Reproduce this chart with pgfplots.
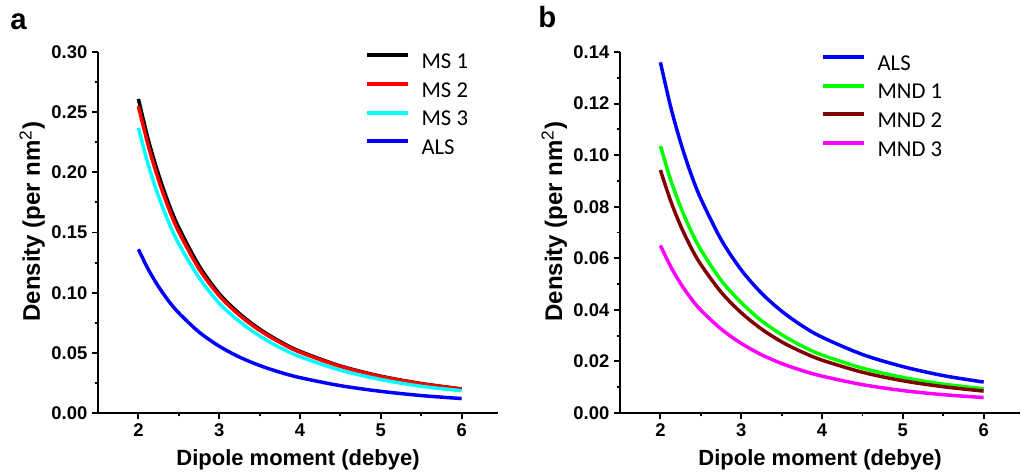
\documentclass[border=0pt]{standalone}
\usepackage{fontspec}
\setmainfont{Liberation Sans}
\newfontfamily\carlito{Carlito}
\usepackage{pgfplots}
\usepackage{pgfplotstable}
\pgfplotsset{compat=1.18}

\pgfplotstableread{
x      MSa     MSb     MSc     ALS
2.000  0.2610  0.2550  0.2370  0.1360
2.125  0.2265  0.2213  0.2056  0.1190
2.250  0.1981  0.1935  0.1799  0.1049
2.375  0.1740  0.1700  0.1585  0.0930
2.500  0.1540  0.1505  0.1405  0.0831
2.750  0.1225  0.1198  0.1125  0.0673
3.000  0.0992  0.0975  0.0912  0.0555
3.250  0.0826  0.0813  0.0761  0.0465
3.500  0.0697  0.0687  0.0640  0.0395
3.750  0.0595  0.0587  0.0544  0.0339
4.000  0.0512  0.0505  0.0468  0.0294
4.500  0.0391  0.0387  0.0356  0.0227
5.000  0.0306  0.0303  0.0278  0.0180
5.500  0.0245  0.0243  0.0222  0.0145
6.000  0.0200  0.0199  0.0185  0.0120
}\tableA

\pgfplotstableread{
x      ALS     MNDa    MNDb    MNDc
2.000  0.1360  0.1036  0.0942  0.0650
2.125  0.1190  0.0906  0.0824  0.0569
2.250  0.1049  0.0799  0.0726  0.0502
2.375  0.0930  0.0709  0.0644  0.0446
2.500  0.0831  0.0633  0.0576  0.0399
2.750  0.0673  0.0515  0.0469  0.0326
3.000  0.0555  0.0428  0.0389  0.0270
3.250  0.0465  0.0358  0.0326  0.0226
3.500  0.0395  0.0304  0.0276  0.0192
3.750  0.0339  0.0260  0.0237  0.0165
4.000  0.0294  0.0225  0.0205  0.0143
4.500  0.0227  0.0174  0.0158  0.0110
5.000  0.0180  0.0138  0.0125  0.0087
5.500  0.0145  0.0112  0.0102  0.0071
6.000  0.0120  0.0094  0.0085  0.0060
}\tableB

\definecolor{cMSa}{RGB}{0,0,0}
\definecolor{cMSb}{RGB}{255,0,0}
\definecolor{cMSc}{RGB}{0,255,255}
\definecolor{cALS}{RGB}{0,0,255}
\definecolor{cMNDa}{RGB}{0,255,0}
\definecolor{cMNDb}{RGB}{128,0,0}
\definecolor{cMNDc}{RGB}{255,0,255}

\pgfplotsset{
  panel/.style={
    scale only axis, width=300pt, height=270.75pt,
    xmin=1.5, xmax=6.45, ymin=0,
    axis x line*=bottom, axis y line*=left,
    axis line style={line width=2.2pt, black},
    every tick/.style={line width=1.4pt, black},
    tick align=outside,
    major tick length=4.5pt, minor tick length=2.5pt,
    xtick={2,3,4,5,6}, minor x tick num=1, minor y tick num=1,
    /pgf/number format/assume math mode=true,
    tick label style={font=\bfseries\fontsize{13.8}{14}\selectfont},
    yticklabel style={/pgf/number format/.cd, fixed, fixed zerofill, precision=2},
    xlabel={Dipole moment (debye)},
    ylabel={Density (per nm\textsuperscript{\mdseries\fontsize{13}{13}\selectfont 2})},
    xlabel style={font=\bfseries\fontsize{16.5}{18}\selectfont,
      at={(axis description cs:0.5,0)}, anchor=base, yshift=-39.5pt},
    ylabel style={font=\bfseries\fontsize{18}{20}\selectfont,
      at={(axis description cs:0,0.5)}, anchor=base, xshift=8pt, yshift=43.5pt},
    every axis plot/.append style={line width=2.6pt, smooth, no markers},
    legend cell align=left,
    legend image code/.code={\draw[#1, line width=3pt] (0pt,5.5pt) -- (30.75pt,5.5pt);},
    legend style={draw=none, fill=none, inner sep=0pt,
      font=\carlito\fontsize{17}{17}\selectfont,
      nodes={inner sep=0pt, text height=12pt, text depth=3pt},
      row sep=6.6pt,
      /tikz/every odd column/.append style={column sep=8.5pt}},
  }
}

\begin{document}
\begin{tikzpicture}
\useasboundingbox (-73.5pt,-46.5pt) rectangle (692.25pt,309.75pt);
\begin{axis}[panel, at={(0pt,0pt)}, anchor=south west,
  ymax=0.30, ytick={0,0.05,0.10,0.15,0.20,0.25,0.30},
  legend style={at={(rel axis cs:0.6675,1)}, anchor=north west}]
\addplot[cMSa] table[x=x,y=MSa]{\tableA};
\addlegendentry{MS 1}
\addplot[cMSb] table[x=x,y=MSb]{\tableA};
\addlegendentry{MS 2}
\addplot[cMSc] table[x=x,y=MSc]{\tableA};
\addlegendentry{MS 3}
\addplot[cALS] table[x=x,y=ALS]{\tableA};
\addlegendentry{ALS}
\end{axis}
\begin{axis}[panel, at={(391.5pt,0pt)}, anchor=south west,
  ymax=0.14, ytick={0,0.02,0.04,0.06,0.08,0.10,0.12,0.14},
  legend style={at={(rel axis cs:0.5025,0.995)}, anchor=north west}]
\addplot[cALS] table[x=x,y=ALS]{\tableB};
\addlegendentry{ALS}
\addplot[cMNDa] table[x=x,y=MNDa]{\tableB};
\addlegendentry{MND 1}
\addplot[cMNDb] table[x=x,y=MNDb]{\tableB};
\addlegendentry{MND 2}
\addplot[cMNDc] table[x=x,y=MNDc]{\tableB};
\addlegendentry{MND 3}
\end{axis}
\node[anchor=base west, inner sep=0pt, font=\bfseries\fontsize{22}{24}\selectfont] at (-66pt,287.25pt) {a};
\node[anchor=base west, inner sep=0pt, font=\bfseries\fontsize{22}{24}\selectfont] at (330pt,288.75pt) {b};
\end{tikzpicture}
\end{document}
